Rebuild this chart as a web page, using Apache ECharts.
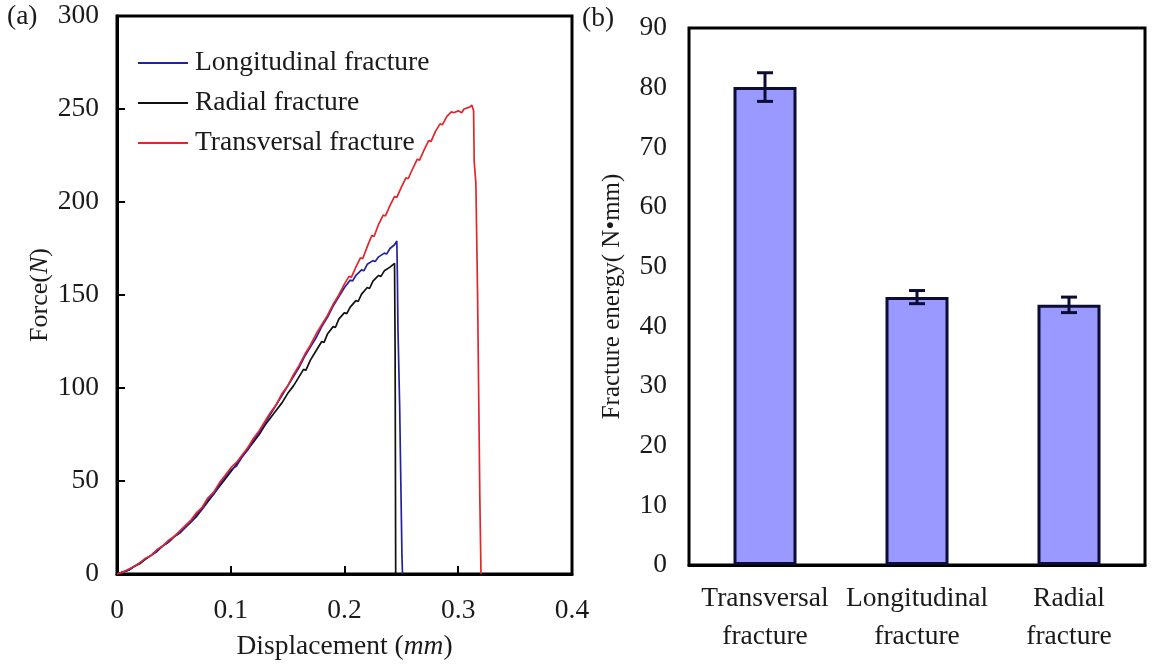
<!DOCTYPE html>
<html>
<head>
<meta charset="utf-8">
<script src="https://cdn.jsdelivr.net/npm/echarts@6/dist/echarts.min.js"></script>
<style>
  html, body {margin: 0; padding: 0; background: #fff;}
  #chart {width: 1155px; height: 666px;}
</style>
</head>
<body>
<div id="chart"></div>
<script>
// (a) force-displacement curves, [displacement mm, force N]
const longitudinal = [
  [0,0],[0.005,1],[0.01,2],[0.015,4],[0.02,6],[0.025,8],[0.03,10],[0.035,12],[0.04,15],[0.045,17],
  [0.05,20],[0.055,22],[0.06,25],[0.065,28],[0.07,32],[0.075,35],[0.08,40],[0.085,43],[0.09,48],[0.095,52],
  [0.1,56],[0.105,58],[0.11,63],[0.115,67],[0.12,72],[0.125,76],[0.13,81],[0.135,86],[0.14,91],[0.145,96],
  [0.15,101],[0.155,106],[0.16,111],[0.165,117],[0.17,122],[0.175,127],[0.18,133],[0.185,138],[0.19,144],[0.195,149],
  [0.2,154],[0.205,158],[0.207,157.5],[0.21,160.5],[0.215,163.5],[0.217,163],[0.22,166.5],[0.225,168.5],[0.227,168],[0.23,170.5],
  [0.235,172.5],[0.237,172],[0.24,175],[0.244,177],[0.246,179],[0.2465,160],[0.247,132],[0.2485,90],[0.2495,50],[0.2505,10],[0.251,0]
]
const radial = [
  [0,0],[0.005,1],[0.01,2],[0.015,4],[0.02,5.5],[0.025,8],[0.03,10],[0.035,12.5],[0.04,15],[0.045,17],
  [0.05,20],[0.055,22],[0.06,25],[0.065,28],[0.07,31],[0.075,35],[0.08,39],[0.085,43],[0.09,47],[0.095,51],
  [0.1,55],[0.105,59],[0.11,63],[0.115,67],[0.12,71],[0.125,75],[0.13,80],[0.135,84],[0.14,88],[0.145,92],
  [0.15,97],[0.155,101],[0.16,106],[0.164,110],[0.166,109.5],[0.17,115],[0.175,120],[0.18,125],[0.182,124.5],[0.185,129],
  [0.19,133],[0.192,132.5],[0.195,137],[0.2,140.5],[0.202,140],[0.205,143.5],[0.21,147],[0.212,146.5],[0.215,150.5],[0.22,154],
  [0.222,153.5],[0.225,157.5],[0.23,160.5],[0.232,160],[0.235,163],[0.24,165],[0.244,167],[0.2445,120],[0.245,0]
]
const transversal = [
  [0,0],[0.005,1],[0.01,2.5],[0.015,4],[0.02,6],[0.025,8.5],[0.03,10],[0.035,13],[0.04,15],[0.045,18],
  [0.05,20],[0.055,23],[0.06,26],[0.065,29],[0.07,33],[0.075,36],[0.08,41],[0.085,44],[0.09,49],[0.095,53],
  [0.1,57],[0.105,60],[0.11,64],[0.115,68],[0.12,73],[0.125,77],[0.13,82],[0.135,87],[0.14,91],[0.145,97],
  [0.15,101],[0.155,107],[0.16,112],[0.165,118],[0.17,123],[0.175,129],[0.18,134],[0.185,139],[0.19,145],[0.195,150],
  [0.2,156],[0.204,160],[0.206,159.5],[0.21,165],[0.214,170],[0.216,169.5],[0.22,176],[0.224,182],[0.226,181.5],[0.23,188],
  [0.234,193],[0.236,192.5],[0.24,198],[0.244,203],[0.246,202.5],[0.25,208],[0.254,213],[0.256,212.5],[0.26,218],[0.264,223],
  [0.266,222.5],[0.27,228],[0.274,233],[0.276,232.5],[0.28,238],[0.284,242],[0.286,241.5],[0.29,246],[0.294,248.5],[0.296,248],
  [0.3,249],[0.303,248],[0.305,250],[0.31,251],[0.312,252],[0.3135,249],[0.314,222],[0.3155,210],[0.317,150],[0.319,40],[0.32,0]
]
const curveNames = ['Longitudinal fracture', 'Radial fracture', 'Transversal fracture']
const curveColors = ['#23239f', '#111111', '#e3262b']

// (b) fracture energy bars
const barCategories = ['Transversal\nfracture', 'Longitudinal\nfracture', 'Radial\nfracture']
const energyMean = [80.1, 44.9, 43.6]
const energyErr = [2.4, 1.1, 1.3]

const font = 'Liberation Serif, Times New Roman, serif'
const textColor = '#1a1a1a'
const fs = 27.5

const chart = echarts.init(document.getElementById('chart'))

const errorData = energyMean.map((m, i) => [i, m, energyErr[i]])

chart.setOption({
  animation: false,
  textStyle: {fontFamily: font, color: textColor},
  graphic: [
    {type: 'text', left: 7, top: 3, style: {text: '(a)', font: fs + 'px ' + font, fill: textColor}},
    {type: 'text', left: 582, top: 5, style: {text: '(b)', font: fs + 'px ' + font, fill: textColor}}
  ],
  legend: {
    orient: 'vertical',
    left: 133,
    top: 44,
    itemWidth: 50,
    itemHeight: 14,
    itemGap: 12,
    data: curveNames.map((n, i) => ({name: n, itemStyle: {color: curveColors[i]}, icon: 'path://M0,6.4 L50,6.4 L50,8.2 L0,8.2 Z'})),
    textStyle: {fontFamily: font, fontSize: fs, color: textColor, lineHeight: 28, padding: [0, 0, 0, 2]}
  },
  grid: [
    {left: 117, right: 583, top: 16, bottom: 88, show: true, borderColor: '#000', borderWidth: 3},
    {left: 689, right: 10, top: 28, bottom: 101, show: true, borderColor: '#000', borderWidth: 3}
  ],
  xAxis: [
    {
      gridIndex: 0, type: 'value', min: 0, max: 0.4, interval: 0.1,
      name: 'Displacement ({i|mm})', nameLocation: 'middle', nameGap: 59,
      nameTextStyle: {fontFamily: font, fontSize: fs, color: textColor, rich: {i: {fontStyle: 'italic', fontFamily: font, fontSize: fs, color: textColor}}},
      axisLine: {lineStyle: {color: '#000', width: 3}},
      axisTick: {inside: true, length: 8, lineStyle: {color: '#000', width: 2}},
      axisLabel: {fontFamily: font, fontSize: fs, color: textColor, margin: 23},
      splitLine: {show: false}
    },
    {
      gridIndex: 1, type: 'category', data: barCategories,
      axisLine: {lineStyle: {color: '#000', width: 3}},
      axisTick: {inside: true, length: 8, alignWithLabel: false, lineStyle: {color: '#000', width: 2}},
      axisLabel: {fontFamily: font, fontSize: fs, color: textColor, margin: 15, lineHeight: 38, interval: 0}
    }
  ],
  yAxis: [
    {
      gridIndex: 0, type: 'value', min: 0, max: 300, interval: 50,
      name: 'Force({i|N})', nameLocation: 'middle', nameGap: 64,
      nameTextStyle: {fontFamily: font, fontSize: 26, color: textColor, rich: {i: {fontStyle: 'italic', fontFamily: font, fontSize: 26, color: textColor}}},
      axisLine: {lineStyle: {color: '#000', width: 3}},
      axisTick: {inside: true, length: 8, lineStyle: {color: '#000', width: 2}},
      axisLabel: {fontFamily: font, fontSize: fs, color: textColor, margin: 18},
      splitLine: {show: false}
    },
    {
      gridIndex: 1, type: 'value', min: 0, max: 90, interval: 10,
      name: 'Fracture energy( N\u2022mm)', nameLocation: 'middle', nameGap: 64,
      nameTextStyle: {fontFamily: font, fontSize: 25, color: textColor},
      axisLine: {lineStyle: {color: '#000', width: 3}},
      axisTick: {inside: true, length: 8, lineStyle: {color: '#000', width: 2}},
      axisLabel: {fontFamily: font, fontSize: fs, color: textColor, margin: 22},
      splitLine: {show: false}
    }
  ],
  series: [
    {name: curveNames[0], type: 'line', xAxisIndex: 0, yAxisIndex: 0, data: longitudinal, symbol: 'none', color: curveColors[0], lineStyle: {width: 1.7, color: curveColors[0]}, z: 3},
    {name: curveNames[1], type: 'line', xAxisIndex: 0, yAxisIndex: 0, data: radial, symbol: 'none', color: curveColors[1], lineStyle: {width: 1.7, color: curveColors[1]}, z: 2},
    {name: curveNames[2], type: 'line', xAxisIndex: 0, yAxisIndex: 0, data: transversal, symbol: 'none', color: curveColors[2], lineStyle: {width: 1.7, color: curveColors[2]}, z: 4},
    {
      type: 'bar', xAxisIndex: 1, yAxisIndex: 1, data: energyMean, barWidth: 63,
      itemStyle: {color: '#9999ff', borderColor: '#0d0d33', borderWidth: 3}
    },
    {
      type: 'custom', xAxisIndex: 1, yAxisIndex: 1, data: errorData, z: 5,
      renderItem(params, api) {
        const i = api.value(0)
        const top = api.coord([i, api.value(1) + api.value(2)])
        const bot = api.coord([i, api.value(1) - api.value(2)])
        const half = 8
        const st = {stroke: '#0d0d33', lineWidth: 3}
        return {
          type: 'group',
          children: [
            {type: 'line', shape: {x1: top[0], y1: top[1], x2: bot[0], y2: bot[1]}, style: st},
            {type: 'line', shape: {x1: top[0] - half, y1: top[1], x2: top[0] + half, y2: top[1]}, style: st},
            {type: 'line', shape: {x1: bot[0] - half, y1: bot[1], x2: bot[0] + half, y2: bot[1]}, style: st}
          ]
        }
      }
    }
  ]
})
</script>
</body>
</html>
